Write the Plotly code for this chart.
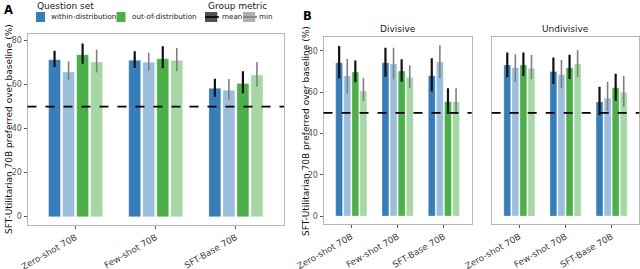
import plotly.graph_objects as go
import numpy as np

models = ["Zero-shot 70B", "Few-shot 70B", "SFT-Base 70B"]
baseline = 50
y_ticks = [0, 20, 40, 60, 80]

# Panel A (overall)
A_within_mean = [71.3, 71.0, 58.3]
A_within_mean_lo = [68.0, 67.6, 54.5]
A_within_mean_hi = [75.4, 75.1, 62.6]
A_within_min = [65.7, 70.1, 57.4]
A_within_min_lo = [62.2, 66.3, 53.0]
A_within_min_hi = [70.6, 74.5, 62.5]
A_ood_mean = [73.6, 71.7, 60.5]
A_ood_mean_lo = [69.5, 67.4, 56.0]
A_ood_mean_hi = [78.7, 77.4, 66.1]
A_ood_min = [70.2, 71.0, 64.3]
A_ood_min_lo = [65.5, 66.0, 59.0]
A_ood_min_hi = [75.9, 76.6, 70.2]

# Panel B - Divisive
D_within_mean = [74.3, 74.3, 68.0]
D_within_mean_lo = [66.8, 67.5, 60.3]
D_within_mean_hi = [82.4, 81.5, 76.5]
D_within_min = [67.9, 73.7, 74.7]
D_within_min_lo = [59.5, 66.3, 66.8]
D_within_min_hi = [76.1, 81.5, 82.8]
D_ood_mean = [69.8, 70.3, 55.4]
D_ood_mean_lo = [64.8, 65.1, 49.5]
D_ood_mean_hi = [75.3, 76.0, 61.9]
D_ood_min = [60.6, 67.1, 55.4]
D_ood_min_lo = [55.8, 62.0, 49.5]
D_ood_min_hi = [66.8, 73.1, 61.9]

# Panel B - Undivisive
U_within_mean = [73.2, 70.0, 55.3]
U_within_mean_lo = [67.2, 64.0, 48.8]
U_within_mean_hi = [79.2, 76.8, 62.7]
U_within_min = [71.9, 68.5, 57.1]
U_within_min_lo = [65.1, 61.9, 50.9]
U_within_min_hi = [78.4, 75.6, 65.1]
U_ood_mean = [73.2, 71.8, 62.2]
U_ood_mean_lo = [67.9, 66.4, 55.9]
U_ood_mean_hi = [79.2, 78.1, 69.0]
U_ood_min = [71.6, 73.7, 60.0]
U_ood_min_lo = [66.3, 67.2, 53.0]
U_ood_min_hi = [78.0, 80.3, 67.9]

panels = [
    ("x", "y", [(A_within_mean, A_within_mean_lo, A_within_mean_hi),
                (A_within_min, A_within_min_lo, A_within_min_hi),
                (A_ood_mean, A_ood_mean_lo, A_ood_mean_hi),
                (A_ood_min, A_ood_min_lo, A_ood_min_hi)]),
    ("x2", "y2", [(D_within_mean, D_within_mean_lo, D_within_mean_hi),
                  (D_within_min, D_within_min_lo, D_within_min_hi),
                  (D_ood_mean, D_ood_mean_lo, D_ood_mean_hi),
                  (D_ood_min, D_ood_min_lo, D_ood_min_hi)]),
    ("x3", "y3", [(U_within_mean, U_within_mean_lo, U_within_mean_hi),
                  (U_within_min, U_within_min_lo, U_within_min_hi),
                  (U_ood_mean, U_ood_mean_lo, U_ood_mean_hi),
                  (U_ood_min, U_ood_min_lo, U_ood_min_hi)]),
]
series_names = ["within-mean", "within-min", "ood-mean", "ood-min"]
bar_colors = ["#377eb8", "#9bbedb", "#4daf4a", "#a6d7a4"]
err_colors = ["#111111", "#7f7f7f", "#111111", "#7f7f7f"]
err_widths = [2.2, 1.6, 2.2, 1.6]

FONT = "DejaVu Sans"
fig = go.Figure()

for xa, ya, data in panels:
    for k, (vals, lo, hi) in enumerate(data):
        v = np.array(vals); l = np.array(lo); h = np.array(hi)
        fig.add_trace(go.Bar(
            x=models, y=vals, xaxis=xa, yaxis=ya,
            name=series_names[k], offsetgroup=series_names[k],
            marker=dict(color=bar_colors[k], line=dict(width=0.6, color="rgba(255,255,255,0.5)")),
            error_y=dict(type="data", symmetric=False, array=(h - v).tolist(),
                         arrayminus=(v - l).tolist(), color=err_colors[k],
                         thickness=err_widths[k], width=0),
            showlegend=False, hoverinfo="skip",
        ))

W, H = 640, 269
def px_x(p): return p / W
def px_y(p): return (H - p) / H

axis_common = dict(showline=True, mirror=True, linecolor="#b5b5b5", linewidth=1,
                   showgrid=False, zeroline=False, ticks="outside", ticklen=3, automargin=False,
                   tickcolor="#555555", tickfont=dict(family=FONT, size=8, color="#555555"))

for xa, ya in [("x", "y"), ("x2", "y2"), ("x3", "y3")]:
    fig.add_shape(type="line", xref=xa + " domain", yref=ya, x0=0, x1=1, y0=baseline, y1=baseline,
                  line=dict(color="black", width=1.6, dash="dash"))

xfont = dict(family=FONT, size=8.8, color="#444444")
fig.update_layout(
    width=W, height=H, margin=dict(l=0, r=0, t=0, b=0),
    plot_bgcolor="white", paper_bgcolor="white",
    font=dict(family=FONT, color="#222222"), showlegend=False,
    barmode="group", bargap=0.3, bargroupgap=0.15,
    xaxis=dict(domain=[px_x(27.5), px_x(284)], anchor="y", range=[-0.6, 2.6], tickangle=-30,
               **{**axis_common, "tickfont": xfont}),
    yaxis=dict(domain=[px_y(225), px_y(33.5)], anchor="x", range=[-3.8, 83.2], tickvals=y_ticks,
               **axis_common),
    xaxis2=dict(domain=[px_x(323.5), px_x(471.7)], anchor="y2", range=[-0.6, 2.6], tickangle=-30,
                **{**axis_common, "tickfont": xfont}),
    yaxis2=dict(domain=[px_y(224.3), px_y(37.3)], anchor="x2", range=[-4.0, 86.6], tickvals=y_ticks,
                **axis_common),
    xaxis3=dict(domain=[px_x(491.7), px_x(639.3)], anchor="y3", range=[-0.6, 2.6], tickangle=-30,
                **{**axis_common, "tickfont": xfont}),
    yaxis3=dict(domain=[px_y(224.3), px_y(37.3)], anchor="x3", range=[-4.0, 86.6], tickvals=y_ticks,
                showticklabels=False, **{**axis_common, "ticks": ""}),
)

# ---- legend (drawn as layout decoration) ----
legend_question = [("within-distribution", "#377eb8", 36, 49), ("out-of-distribution", "#4daf4a", 116.5, 130)]
legend_metric = [("mean", "rgba(50,50,50,0.85)", "#000000", 205, 219.5),
                 ("min", "rgba(150,150,150,0.75)", "#7f7f7f", 243, 256.5)]
shapes = []
annotations = []
annotations.append(dict(text="Question set", x=px_x(34.5), y=px_y(5.5), xref="paper", yref="paper",
                        xanchor="left", yanchor="middle", showarrow=False,
                        font=dict(family=FONT, size=9, color="#222222")))
annotations.append(dict(text="Group metric", x=px_x(206), y=px_y(5.5), xref="paper", yref="paper",
                        xanchor="left", yanchor="middle", showarrow=False,
                        font=dict(family=FONT, size=9, color="#222222")))
for name, col, x0, tx in legend_question:
    shapes.append(dict(type="rect", xref="paper", yref="paper", x0=px_x(x0), x1=px_x(x0 + 9),
                       y0=px_y(22), y1=px_y(12), fillcolor=col, line=dict(width=0)))
    annotations.append(dict(text=name, x=px_x(tx), y=px_y(17), xref="paper", yref="paper",
                            xanchor="left", yanchor="middle", showarrow=False,
                            font=dict(family=FONT, size=7.2, color="#222222")))
for name, fill, lcol, x0, tx in legend_metric:
    shapes.append(dict(type="rect", xref="paper", yref="paper", x0=px_x(x0), x1=px_x(x0 + 12.3),
                       y0=px_y(22), y1=px_y(12), fillcolor=fill, line=dict(width=0)))
    shapes.append(dict(type="line", xref="paper", yref="paper", x0=px_x(x0), x1=px_x(x0 + 14),
                       y0=px_y(17), y1=px_y(17), line=dict(color=lcol, width=1.6)))
    annotations.append(dict(text=name, x=px_x(tx), y=px_y(17), xref="paper", yref="paper",
                            xanchor="left", yanchor="middle", showarrow=False,
                            font=dict(family=FONT, size=7.2, color="#222222")))

annotations += [
    dict(text="<b>A</b>", x=px_x(1.5), y=px_y(10.5), xref="paper", yref="paper", xanchor="left",
         yanchor="middle", showarrow=False, font=dict(family=FONT, size=11.5, color="black")),
    dict(text="<b>B</b>", x=px_x(301), y=px_y(15.5), xref="paper", yref="paper", xanchor="left",
         yanchor="middle", showarrow=False, font=dict(family=FONT, size=11.5, color="black")),
    dict(text="Divisive", x=px_x(397.5), y=px_y(29), xref="paper", yref="paper", xanchor="center",
         yanchor="middle", showarrow=False, font=dict(family=FONT, size=9, color="#222222")),
    dict(text="Undivisive", x=px_x(565.5), y=px_y(29), xref="paper", yref="paper", xanchor="center",
         yanchor="middle", showarrow=False, font=dict(family=FONT, size=9, color="#222222")),
    dict(text="SFT-Utilitarian 70B preferred over baseline (%)", x=px_x(8.5), y=px_y(129.5),
         xref="paper", yref="paper", xanchor="center", yanchor="middle", textangle=-90,
         showarrow=False, font=dict(family=FONT, size=9, color="#111111")),
    dict(text="SFT-Utilitarian 70B preferred over baseline (%)", x=px_x(306), y=px_y(131),
         xref="paper", yref="paper", xanchor="center", yanchor="middle", textangle=-90,
         showarrow=False, font=dict(family=FONT, size=9, color="#111111")),
]
fig.update_layout(shapes=list(fig.layout.shapes) + shapes, annotations=annotations)

fig.write_html("out.html", config={"displayModeBar": False},
               post_script="document.body.style.margin='0px';document.body.style.padding='0px';"
                           "document.body.style.overflow='hidden';")
